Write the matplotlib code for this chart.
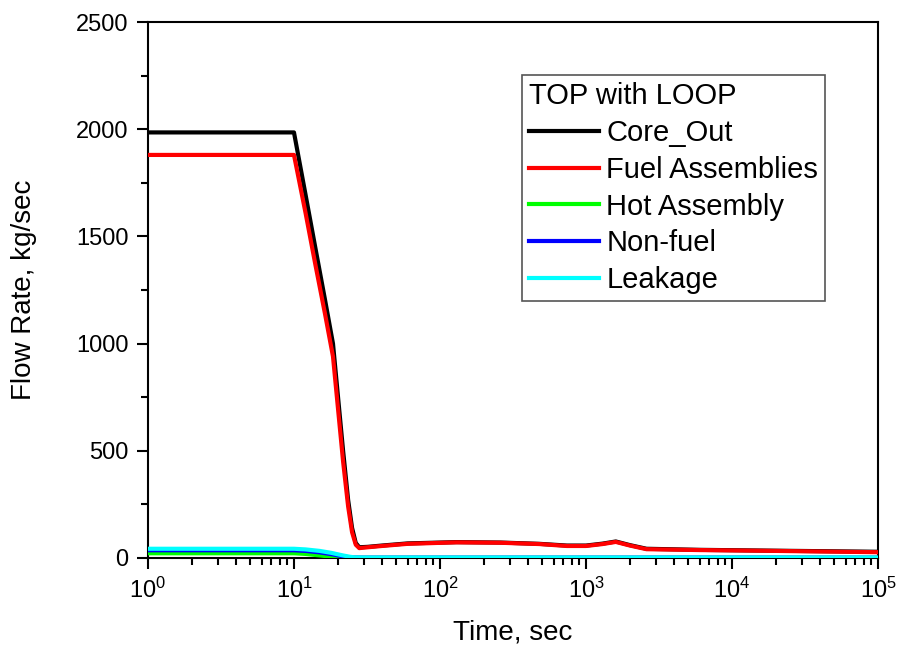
import matplotlib
matplotlib.use('Agg')
import matplotlib.pyplot as plt
from matplotlib.ticker import LogLocator, MultipleLocator

plt.rcParams['font.family'] = ['Liberation Sans', 'DejaVu Sans']
plt.rcParams['mathtext.fontset'] = 'custom'
plt.rcParams['mathtext.rm'] = 'Liberation Sans'
plt.rcParams['mathtext.it'] = 'Liberation Sans'

# Transient flow rates (kg/sec) vs time (sec)
time = [1, 10, 12, 14, 16.3, 18.5, 21.7, 23.5, 25, 26.5, 28, 32, 40, 60, 130, 260,
        480, 740, 1000, 1300, 1600, 2000, 2600, 6000, 20000, 100000]
core_out = [1985, 1985, 1695, 1448, 1206, 1000, 500, 270, 140, 70, 50, 52, 58, 68, 74, 72,
            66, 58, 58, 67, 77, 60, 43, 38, 34, 29]
fuel_assemblies = [1880, 1880, 1610, 1370, 1140, 940, 450, 240, 120, 62, 46, 50, 56, 66, 73, 71,
                   65, 56, 56, 65, 75, 58, 41, 37, 33, 27]

time_small = [1, 10, 12, 15, 18, 20, 22, 24, 26, 30, 100, 1000, 100000]
hot_assembly = [22, 22, 19, 12, 6, 2, 1, 0.5, 0.5, 0.5, 0.5, 0.5, 0.5]
non_fuel = [36, 36, 33, 26, 18, 12, 7, 3, 2, 1.5, 1.5, 1.5, 1.5]
leakage = [43, 43, 40, 33, 24, 17, 11, 6, 3, 2, 2, 2, 2]

fig = plt.figure(figsize=(8.99, 6.53), dpi=100)
ax = fig.add_subplot(1, 1, 1)
fig.subplots_adjust(left=0.1646, right=0.9766, top=0.9663, bottom=0.1455)

ax.plot(time_small, hot_assembly, color='#00ff00', lw=3, label='Hot Assembly', zorder=3)
ax.plot(time_small, non_fuel, color='#0000ff', lw=3, label='Non-fuel', zorder=4)
ax.plot(time_small, leakage, color='#00ffff', lw=3, label='Leakage', zorder=5)
ax.plot(time, core_out, color='black', lw=3, label='Core_Out', zorder=6)
ax.plot(time, fuel_assemblies, color='#ff0000', lw=3, label='Fuel Assemblies', zorder=7)

ax.set_xscale('log')
ax.set_xlim(1, 1e5)
ax.set_ylim(0, 2500)

ax.xaxis.set_major_locator(LogLocator(base=10, numticks=10))
ax.xaxis.set_minor_locator(LogLocator(base=10, subs=range(2, 10), numticks=20))
ax.yaxis.set_major_locator(MultipleLocator(500))
ax.yaxis.set_minor_locator(MultipleLocator(250))

ax.tick_params(which='major', direction='out', length=8, width=1.5, labelsize=17, pad=6)
ax.tick_params(which='minor', direction='out', length=5, width=1.5)
ax.tick_params(top=False, right=False)
for s in ax.spines.values():
    s.set_linewidth(1.5)

ax.set_xlabel('Time, sec', fontsize=20, labelpad=12)
ax.set_ylabel('Flow Rate, kg/sec', fontsize=20, labelpad=28)

handles, labels = ax.get_legend_handles_labels()
order = ['Core_Out', 'Fuel Assemblies', 'Hot Assembly', 'Non-fuel', 'Leakage']
hmap = dict(zip(labels, handles))
leg = ax.legend([hmap[k] for k in order], order, title='TOP with LOOP',
                loc='upper left', bbox_to_anchor=(0.512, 0.901),
                fontsize=21, title_fontsize=21, frameon=True, fancybox=False,
                edgecolor='#555555', framealpha=1, handlelength=2.4,
                handletextpad=0.25, labelspacing=0.3, borderpad=0.25,
                borderaxespad=0)
leg._legend_box.align = 'left'
leg.get_frame().set_linewidth(1.2)

fig.savefig('out.png', dpi=100)
